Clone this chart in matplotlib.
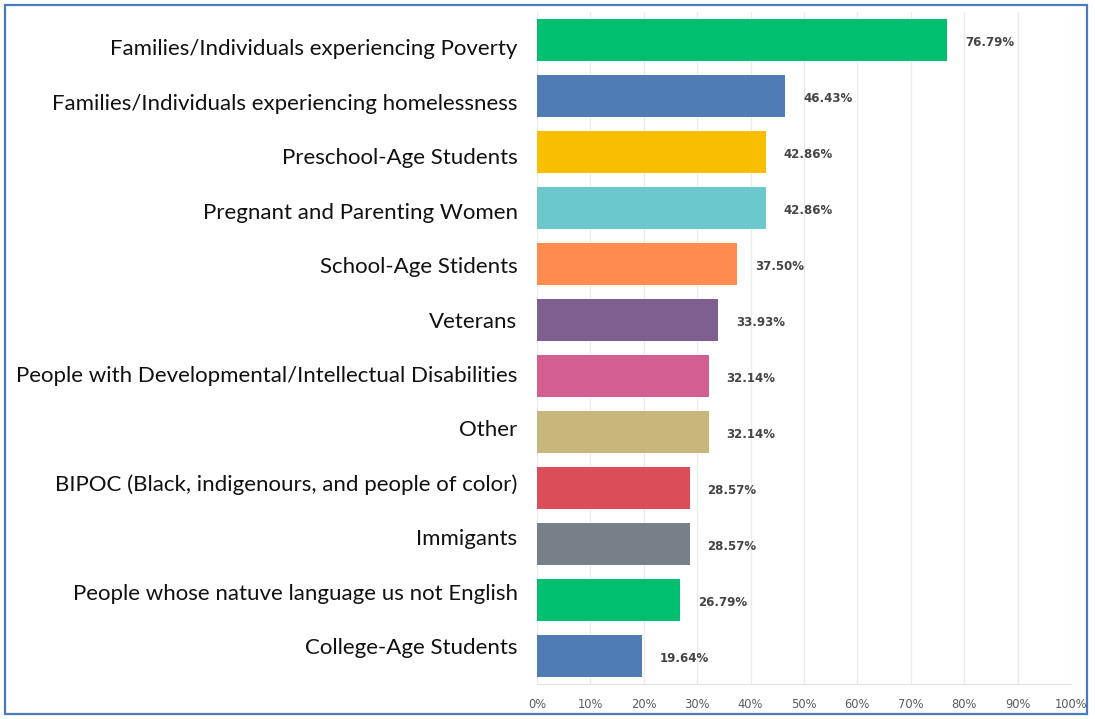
import matplotlib
matplotlib.use("Agg")
import matplotlib.pyplot as plt
from matplotlib.patches import Rectangle

categories = [
    "Families/Individuals experiencing Poverty",
    "Families/Individuals experiencing homelessness",
    "Preschool-Age Students",
    "Pregnant and Parenting Women",
    "School-Age Stidents",
    "Veterans",
    "People with Developmental/Intellectual Disabilities",
    "Other",
    "BIPOC (Black, indigenours, and people of color)",
    "Immigants",
    "People whose natuve language us not English",
    "College-Age Students",
]
values = [76.79, 46.43, 42.86, 42.86, 37.50, 33.93, 32.14, 32.14, 28.57, 28.57, 26.79, 19.64]
colors = ["#00bf6f", "#507cb6", "#f9be00", "#6bc8cd", "#ff8b4f", "#7f5f90",
          "#d25f90", "#c8b77a", "#dc4d5a", "#768086", "#00bf6f", "#507cb6"]
xticks = [0, 10, 20, 30, 40, 50, 60, 70, 80, 90, 100]
xticklabels = [f"{t}%" for t in xticks]

fig = plt.figure(figsize=(10.95, 7.19), dpi=100)
ax = fig.add_axes([0.4904, 0.0487, 0.4877, 0.9343])

y = list(range(len(categories)))
ax.barh(y, values, height=0.75, color=colors, zorder=3)
ax.set_ylim(len(categories) - 0.5, -0.5)
ax.set_xlim(0, 100)
# category labels in the screenshot sit on a slightly tighter pitch than the bars
label_pos = [0.125 + 0.973 * i for i in y]
ax.set_yticks(label_pos)
ax.set_yticklabels(categories, fontsize=16, family="Lato", color="#111111")
ax.set_xticks(xticks)
ax.set_xticklabels(xticklabels, fontsize=8.3, color="#5a5a5a")
ax.tick_params(axis="both", length=0)
ax.tick_params(axis="y", pad=14)
ax.tick_params(axis="x", pad=10)
ax.grid(axis="x", color="#ebebeb", linewidth=1, zorder=0)
for s in ["top", "right", "left"]:
    ax.spines[s].set_visible(False)
ax.spines["bottom"].set_color("#e3e3e3")

for yi, v in zip(y, values):
    ax.annotate(f"{v:.2f}%", (v, yi), xytext=(13, -2), textcoords="offset points",
                va="center", ha="left", fontsize=8.5, color="#444444", fontweight="bold")

fig.patches.append(Rectangle((5 / 1095, 5 / 719), 1082 / 1095, 709 / 719,
                             transform=fig.transFigure, fill=False,
                             edgecolor="#4a7bbf", linewidth=1.6))

fig.savefig("out.png", dpi=100)
